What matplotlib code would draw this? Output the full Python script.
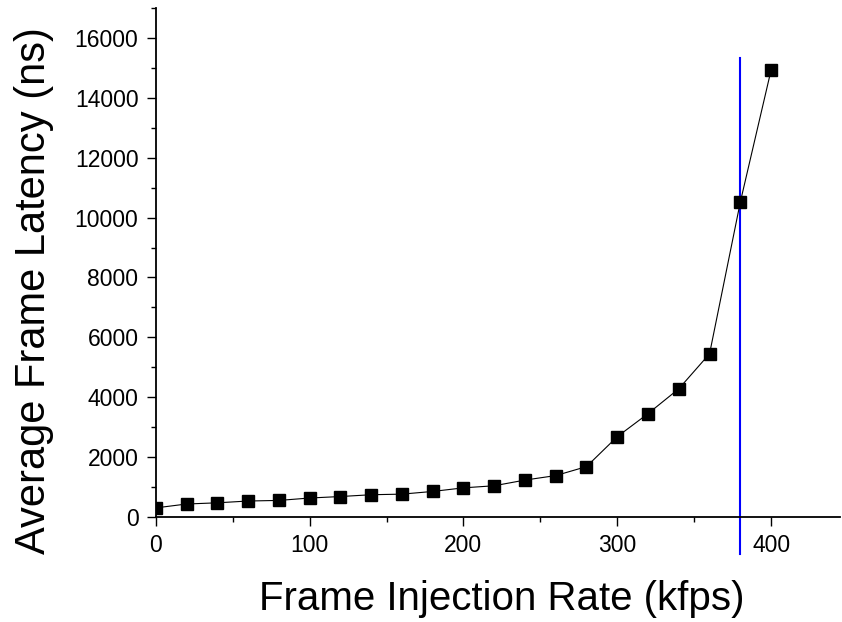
import matplotlib
matplotlib.use('Agg')
import matplotlib.pyplot as plt
from matplotlib.ticker import MultipleLocator

plt.rcParams['font.family'] = ['Liberation Sans', 'DejaVu Sans']

# injection rate (kfps) and average latency (ns)
rate = [0, 20, 40, 60, 80, 100, 120, 140, 160, 180, 200, 220, 240, 260, 280,
        300, 320, 340, 360, 380, 400]
latency = [300, 430, 470, 530, 550, 630, 680, 740, 760, 850, 970, 1040, 1230,
           1380, 1680, 2680, 3450, 4280, 5450, 10520, 14930]

limit_x = 380
limit_y = [-1250, 15330]

fig = plt.figure(figsize=(8.42, 6.22), dpi=100)
ax = fig.add_axes([0.185, 0.169, 0.813, 0.818])

ax.plot(rate, latency, color='black', lw=0.8, marker='s', ms=8.5,
        markerfacecolor='black', markeredgecolor='black', zorder=3)
ax.plot([limit_x, limit_x], limit_y, color='#0000ff', lw=1.5, clip_on=False, zorder=2)

ax.set_xlim(0, 445)
ax.set_ylim(0, 17000)
ax.xaxis.set_major_locator(MultipleLocator(100))
ax.xaxis.set_minor_locator(MultipleLocator(50))
ax.yaxis.set_major_locator(MultipleLocator(2000))
ax.yaxis.set_minor_locator(MultipleLocator(1000))

for s in ['top', 'right']:
    ax.spines[s].set_visible(False)
for s in ['left', 'bottom']:
    ax.spines[s].set_linewidth(1.3)

ax.tick_params(which='major', direction='out', length=6.5, width=1.0, labelsize=16.5, pad=6)
ax.tick_params(which='minor', direction='out', length=3.5, width=1.0)

ax.set_xlabel('Frame Injection Rate (kfps)', fontsize=29)
ax.set_ylabel('Average Frame Latency (ns)', fontsize=30)
ax.xaxis.set_label_coords(0.5055, -0.124)
ax.yaxis.set_label_coords(-0.148, 0.444)

fig.savefig('out.png', dpi=100)
